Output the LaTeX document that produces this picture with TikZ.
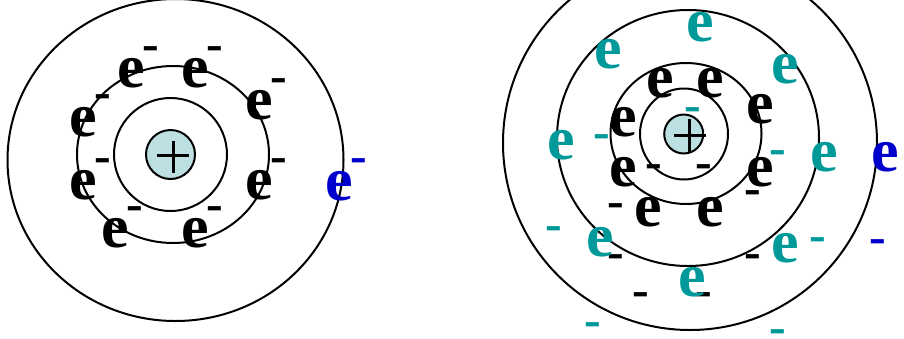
\documentclass[tikz,border=0pt]{standalone}
\usepackage{fontspec}
\setmainfont{Liberation Serif}
\definecolor{teal1}{HTML}{009999}
\definecolor{blue1}{HTML}{0000CC}
\definecolor{nuc}{HTML}{BCE0E2}
\newfontfamily\efont{Liberation Serif}[BoldFont={* Bold}]
\tikzset{
  el/.style={font=\efont\bfseries\fontsize{62}{70}\selectfont, inner sep=0pt, anchor=base, yshift=-14.3pt},
  mn/.style={font=\efont\bfseries\fontsize{50}{56}\selectfont, inner sep=0pt, anchor=base, yshift=-11.5pt},
  orbit/.style={draw=black, line width=2pt},
  nucleus/.style={draw=black, line width=2pt, fill=nuc},
  plusbar/.style={line width=3pt}
}
\begin{document}
\begin{tikzpicture}[x=1pt,y=-1pt]
\useasboundingbox (0,0) rectangle (904,338);
\clip (0,0) rectangle (904,338);
% left atom
\draw[orbit] (175.5,160) ellipse [x radius=168, y radius=161];
\draw[orbit] (173,154.5) ellipse [x radius=96, y radius=88.5];
\draw[orbit] (170.5,154.5) circle [radius=56.5];
\draw[nucleus] (170.5,154.5) circle [radius=24.5];
\coordinate (lph1) at (157,155); \coordinate (lph2) at (189,155);
\coordinate (lpv1) at (173,141); \coordinate (lpv2) at (173,173);
\draw[plusbar] (lph1) -- (lph2); \draw[plusbar] (lpv1) -- (lpv2);
\foreach \x/\y [count=\i] in {131/73,195.5/73,259.5/105,83/122,83/185,259.5/185,115.5/233,195.5/233}
  \node[el] (le\i) at (\x,\y) {e};
\foreach \x/\y [count=\i] in {151/49,215/49,279/81,102.5/97,102.5/161,279/161,135/209,215/209}
  \node[mn] (lm\i) at (\x,\y) {-};
\node[el, text=blue1] (lbe) at (339.5,186) {e};
\node[mn, text=blue1] (lbm) at (359,161) {-};
% right atom
\draw[orbit] (690,143) circle [radius=187];
\draw[orbit] (688,138) ellipse [x radius=131, y radius=128];
\draw[orbit] (686,133.5) ellipse [x radius=75.5, y radius=70.5];
\draw[orbit] (684,134) ellipse [x radius=44, y radius=45.5];
\draw[nucleus] (683.7,134) circle [radius=19.5];
\coordinate (rph1) at (673.7,135.7); \coordinate (rph2) at (706,135.7);
\coordinate (rpv1) at (689.3,119); \coordinate (rpv2) at (689.3,151.7);
\draw[plusbar] (rph1) -- (rph2); \draw[plusbar] (rpv1) -- (rpv2);
\foreach \x/\y [count=\i] in {660.5/83,710.5/83,760.5/109,623/122.5,623/172,760.5/172,648/212,710.5/212}
  \node[el] (re\i) at (\x,\y) {e};
\foreach \x/\y [count=\i] in {654/167,704/167,753/193,616/206,616/257,753/257,641/295,704/295}
  \node[mn] (rm\i) at (\x,\y) {-};
\foreach \x/\y [count=\i] in {700/27,608.5/54,785.5/69,561/145,824.5/157,600.5/242,785.5/248,692/282}
  \node[el, text=teal1] (te\i) at (\x,\y) {e};
\foreach \x/\y [count=\i] in {693/110,602/137,778/153,554/229,818/240,593/325,778/332}
  \node[mn, text=teal1] (tm\i) at (\x,\y) {-};
\node[el, text=blue1] (rbe) at (885.5,157.5) {e};
\node[mn, text=blue1] (rbm) at (878,242) {-};
\end{tikzpicture}
\end{document}
